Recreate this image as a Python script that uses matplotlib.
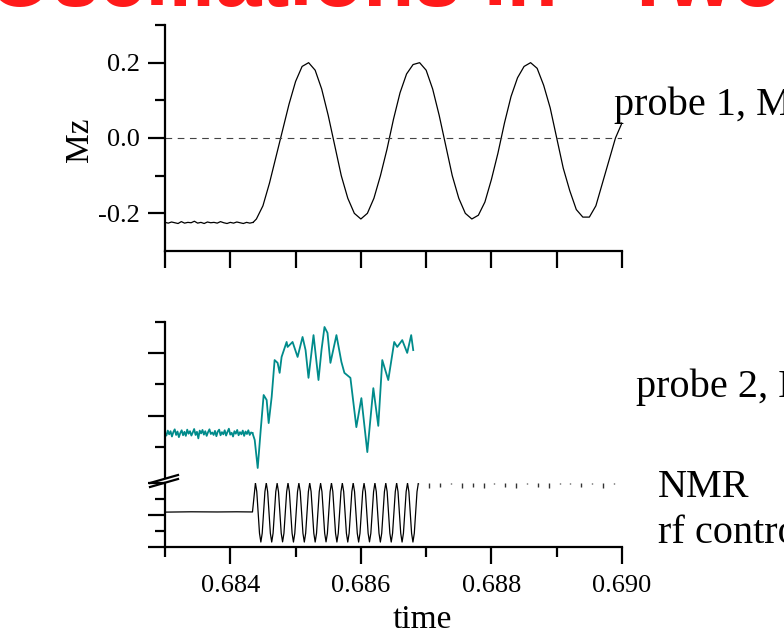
import numpy as np
import matplotlib
matplotlib.use("Agg")
import matplotlib.pyplot as plt
from matplotlib.lines import Line2D

plt.rcParams["font.family"] = ["Liberation Serif", "DejaVu Serif"]

W, H = 784, 629

# ---- probe 1, Mz (top panel) ----
mz_base_t = np.linspace(0.6830, 0.68435, 28)
mz_base_v = [-0.224, -0.226, -0.223, -0.225, -0.227, -0.222, -0.226, -0.224,
             -0.225, -0.221, -0.226, -0.224, -0.227, -0.223, -0.225, -0.224,
             -0.226, -0.222, -0.225, -0.227, -0.224, -0.226, -0.223, -0.225,
             -0.227, -0.224, -0.226, -0.224]
mz_t = np.arange(0.6844, 0.69001, 0.0001)
mz_v = [-0.215, -0.18, -0.12, -0.05, 0.02, 0.09, 0.15, 0.19, 0.20, 0.18,
        0.13, 0.06, -0.02, -0.10, -0.16, -0.20, -0.215, -0.20, -0.16, -0.10,
        -0.03, 0.05, 0.12, 0.17, 0.195, 0.20, 0.18, 0.13, 0.06, -0.02,
        -0.10, -0.16, -0.20, -0.215, -0.205, -0.17, -0.11, -0.04, 0.04, 0.11,
        0.16, 0.19, 0.20, 0.185, 0.14, 0.08, 0.00, -0.08, -0.14, -0.19,
        -0.21, -0.21, -0.18, -0.12, -0.06, 0.00, 0.04]

# ---- probe 2 (teal) ----
p2_base_t = np.linspace(0.6830, 0.68434, 64)
p2_base_v = [1.45, 1.36, 1.52, 1.40, 1.50, 1.33, 1.47, 1.56, 1.38, 1.49,
             1.31, 1.44, 1.53, 1.37, 1.48, 1.35, 1.55, 1.42, 1.50, 1.36,
             1.46, 1.57, 1.38, 1.48, 1.27, 1.52, 1.43, 1.54, 1.39, 1.50,
             1.35, 1.47, 1.56, 1.41, 1.46, 1.38, 1.51, 1.34, 1.49, 1.55,
             1.37, 1.47, 1.40, 1.53, 1.36, 1.48, 1.58, 1.39, 1.45, 1.33,
             1.50, 1.42, 1.54, 1.37, 1.47, 1.40, 1.52, 1.35, 1.49, 1.41,
             1.53, 1.38, 1.46, 1.44]
p2_t = [0.684374, 0.684420, 0.684466, 0.684511, 0.684557, 0.684588, 0.684634,
        0.684679, 0.684725, 0.684756, 0.684786, 0.684863, 0.684878, 0.684954,
        0.685031, 0.685107, 0.685153, 0.685198, 0.685275, 0.685351, 0.685397,
        0.685443, 0.685489, 0.685534, 0.685626, 0.685702, 0.685748, 0.685840,
        0.685931, 0.686008, 0.686099, 0.686191, 0.686267, 0.686328, 0.686420,
        0.686511, 0.686557, 0.686634, 0.686710, 0.686771, 0.686802]
p2_v = [1.22, 0.32, 1.54, 2.66, 2.50, 1.76, 2.60,
        3.78, 3.69, 3.37, 3.88, 4.36, 4.20, 4.36,
        3.88, 4.52, 4.10, 3.21, 4.58, 3.14, 4.10,
        4.84, 4.65, 3.69, 4.58, 3.72, 3.37, 3.21,
        1.63, 2.56, 0.83, 2.88, 1.67, 3.78, 3.14,
        4.36, 4.20, 4.42, 4.01, 4.58, 4.10]

# ---- NMR rf control ----
rf_base_t = [0.6830, 0.6834, 0.6838, 0.6841, 0.68434]
rf_base_v = [2.18, 2.20, 2.19, 2.20, 2.19]
rf_t = 0.684385 + 0.0000208 * np.arange(121)
rf_v = [4.00, 3.46, 2.16, 0.86, 0.31, 0.86, 2.16, 3.46,
        4.00, 3.46, 2.16, 0.86, 0.31, 0.86, 2.16, 3.46,
        3.98, 3.45, 2.16, 0.86, 0.32, 0.86, 2.16, 3.45,
        4.00, 3.46, 2.16, 0.86, 0.31, 0.86, 2.16, 3.46,
        3.99, 3.46, 2.16, 0.86, 0.31, 0.86, 2.16, 3.46,
        4.00, 3.46, 2.16, 0.86, 0.31, 0.86, 2.16, 3.46,
        3.98, 3.45, 2.16, 0.86, 0.32, 0.86, 2.16, 3.45,
        4.00, 3.46, 2.16, 0.86, 0.31, 0.86, 2.16, 3.46,
        3.99, 3.46, 2.16, 0.86, 0.31, 0.86, 2.16, 3.46,
        4.00, 3.46, 2.16, 0.86, 0.31, 0.86, 2.16, 3.46,
        3.98, 3.45, 2.16, 0.86, 0.32, 0.86, 2.16, 3.45,
        4.00, 3.46, 2.16, 0.86, 0.31, 0.86, 2.16, 3.46,
        3.99, 3.46, 2.16, 0.86, 0.31, 0.86, 2.16, 3.46,
        4.00, 3.46, 2.16, 0.86, 0.31, 0.86, 2.16, 3.46,
        3.99, 3.46, 2.16, 0.86, 0.31, 0.86, 2.16, 3.46,
        3.99]
rf_dot_t = [0.686881, 0.687048, 0.687214, 0.687381, 0.687547, 0.687714,
            0.687880, 0.688046, 0.688213, 0.688379, 0.688546, 0.688712,
            0.688878, 0.689045, 0.689211, 0.689378, 0.689544, 0.689711,
            0.689877]
rf_dot_lo = [3.92, 3.70, 3.72, 3.92, 3.70, 3.72, 3.70, 3.92, 3.72, 3.70,
             3.92, 3.72, 3.70, 3.92, 3.92, 3.72, 3.92, 3.70, 3.92]

x_ticks_all = [0.683, 0.684, 0.685, 0.686, 0.687, 0.688, 0.689, 0.690]
x_major = [0.684, 0.686, 0.688, 0.690]
x_minor = [0.683, 0.685, 0.687, 0.689]
x_labels = ["0.684", "0.686", "0.688", "0.690"]


def px(x, y):
    return x / W, 1 - y / H


def style(ax):
    for s in ["top", "right"]:
        ax.spines[s].set_visible(False)
    for s in ["left", "bottom"]:
        ax.spines[s].set_linewidth(1.6)
    ax.tick_params(which="major", direction="out", length=12, width=1.6,
                   labelsize=19, pad=4)
    ax.tick_params(which="minor", direction="out", length=7, width=1.6)
    ax.set_xlim(0.683, 0.690)


fig = plt.figure(figsize=(W / 100, H / 100), dpi=100)

# top panel
ax1 = fig.add_axes([165 / W, 1 - 251 / H, 457 / W, 226 / H])
style(ax1)
ax1.plot(mz_base_t, mz_base_v, color="k", lw=0.9)
ax1.plot(np.concatenate([[mz_base_t[-1]], mz_t]), [mz_base_v[-1]] + mz_v,
         color="k", lw=0.9)
ax1.axhline(0, color="#444444", lw=0.8, dashes=(6, 5))
ax1.set_ylim(-0.3, 0.3)
ax1.set_yticks([-0.2, 0.0, 0.2])
ax1.set_yticklabels(["-0.2", "0.0", "0.2"])
ax1.set_yticks([-0.1, 0.1, 0.3], minor=True)
ax1.set_xticks(x_ticks_all)
ax1.set_xticklabels([])
ax1.tick_params(axis="y", pad=6)

# probe 2 panel
ax2 = fig.add_axes([165 / W, 1 - 478 / H, 457 / W, 156 / H])
style(ax2)
ax2.spines["bottom"].set_visible(False)
ax2.plot(p2_base_t, p2_base_v, color="#008b8b", lw=1.3)
ax2.plot([p2_base_t[-1]] + p2_t, [p2_base_v[-1]] + p2_v, color="#008b8b", lw=1.3)
ax2.set_ylim(0, 5)
ax2.set_yticks([2, 4])
ax2.set_yticks([1, 3, 5], minor=True)
ax2.set_yticklabels([])
ax2.set_xticks([])
ax2.patch.set_alpha(0)

# rf control panel
ax3 = fig.add_axes([165 / W, 1 - 547 / H, 457 / W, 64 / H])
style(ax3)
ax3.plot(rf_base_t + list(rf_t), rf_base_v + rf_v, color="k", lw=0.9)
ax3.vlines(rf_dot_t, rf_dot_lo, 4.0, color="#333333", lw=1.0)
ax3.set_ylim(0, 4)
ax3.set_yticks([0, 2, 4])
ax3.set_yticks([1, 3], minor=True)
ax3.set_yticklabels([])
ax3.set_xticks(x_major)
ax3.set_xticklabels(x_labels)
ax3.set_xticks(x_minor, minor=True)
ax3.patch.set_alpha(0)
ax3.tick_params(axis="x", pad=8)

# axis break marks
for dy in (0, 4):
    x0, y0 = px(150, 483 + dy)
    x1, y1 = px(178, 475 + dy)
    fig.add_artist(Line2D([x0, x1], [y0, y1], color="k", lw=1.6,
                          transform=fig.transFigure))

# texts
fig.text(*px(80, 140), "Mz", rotation=90, ha="center", va="center", fontsize=24)
fig.text(*px(422, 628), "time", ha="center", va="baseline", fontsize=24)
fig.text(*px(614, 115), "probe 1, Mz", ha="left", va="baseline", fontsize=29)
fig.text(*px(636, 397), "probe 2, Mz", ha="left", va="baseline", fontsize=29)
fig.text(*px(658, 497), "NMR", ha="left", va="baseline", fontsize=29)
fig.text(*px(658, 543), "rf control", ha="left", va="baseline", fontsize=29)
fig.text(*px(-12, 6), "Oscillations in \u201cTwo RF Fields\u201d", ha="left",
         va="baseline", fontsize=60, color="#ff1a1a", fontweight="bold",
         family=["Liberation Sans", "DejaVu Sans"])

fig.savefig("out.png", dpi=100)
